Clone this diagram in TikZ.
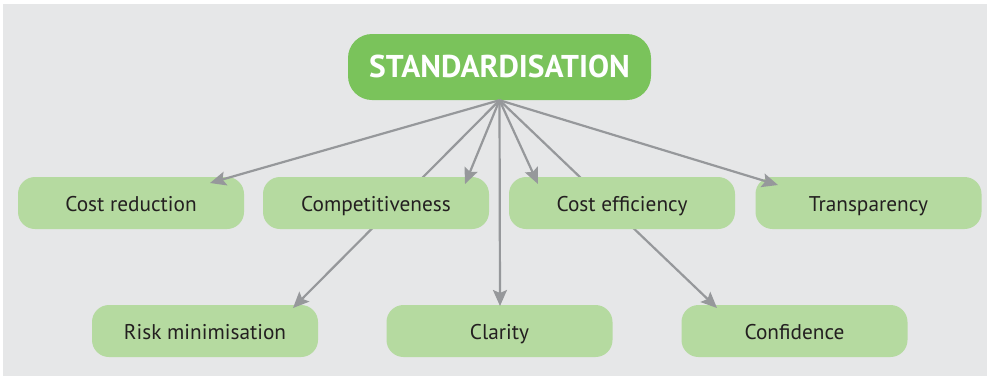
\documentclass[tikz,border=0pt]{standalone}
\usepackage{fontspec}
\setmainfont{PT Sans}
\usetikzlibrary{arrows.meta,calc}
\definecolor{bggrey}{HTML}{E6E7E8}
\definecolor{maingreen}{HTML}{7AC35B}
\definecolor{lightgreen}{HTML}{B5DAA0}
\definecolor{arrowgrey}{HTML}{96989B}
\definecolor{txt}{HTML}{231F20}
\tikzset{
  x=1pt, y=1pt,
  topic/.style={fill=lightgreen, rounded corners=17pt, minimum width=226pt, minimum height=52pt,
    inner sep=0pt, text height=20pt, text depth=4pt, text=txt, font=\fontsize{21.3}{25}\selectfont},
  hubbox/.style={fill=maingreen, rounded corners=24pt, minimum width=303pt, minimum height=66pt,
    inner sep=0pt, text height=24pt, text depth=4pt, text=white, font=\fontsize{31.5}{36}\selectfont\bfseries},
  link/.style={draw=arrowgrey, line width=2.2pt, -{Stealth[length=16pt,width=14pt,inset=3pt]}},
}
\begin{document}
\begin{tikzpicture}
\useasboundingbox (0,0) rectangle (987,-376);
\fill[bggrey] (3,-4) rectangle (987,-376);
% hub and bottom row
\node[hubbox] (std) at (499.5,-67) {STANDARDISATION};
\node[topic] (risk) at (205,-331) {Risk minimisation};
\node[topic] (clar) at (499.5,-331) {Clarity};
\node[topic] (conf) at (794.5,-331) {Confidence};
% arrows to bottom row (behind top row)
\coordinate (triskt) at ($(risk.center)+(88,23)$);
\coordinate (tclart) at ($(clar.center)+(0.5,25)$);
\coordinate (tconft) at ($(conf.center)+(-77.5,23)$);
\draw[link] (std.south) -- (triskt);
\draw[link] (std.south) -- (tclart);
\draw[link] (std.south) -- (tconft);
% top row
\node[topic] (cred) at (131,-203) {Cost reduction};
\node[topic] (comp) at (376,-203) {Competitiveness};
\node[topic] (ceff) at (622,-203) {Cost efficiency};
\node[topic] (trans) at (868.5,-203) {Transparency};
\coordinate (tcred) at ($(cred.center)+(79,20)$);
\coordinate (tcomp) at ($(comp.center)+(89,19)$);
\coordinate (tceff) at ($(ceff.center)+(-84,19)$);
\coordinate (ttrans) at ($(trans.center)+(-90.5,18)$);
\draw[link] (std.south) -- (tcred);
\draw[link] (std.south) -- (tcomp);
\draw[link] (std.south) -- (tceff);
\draw[link] (std.south) -- (ttrans);
\end{tikzpicture}
\end{document}
